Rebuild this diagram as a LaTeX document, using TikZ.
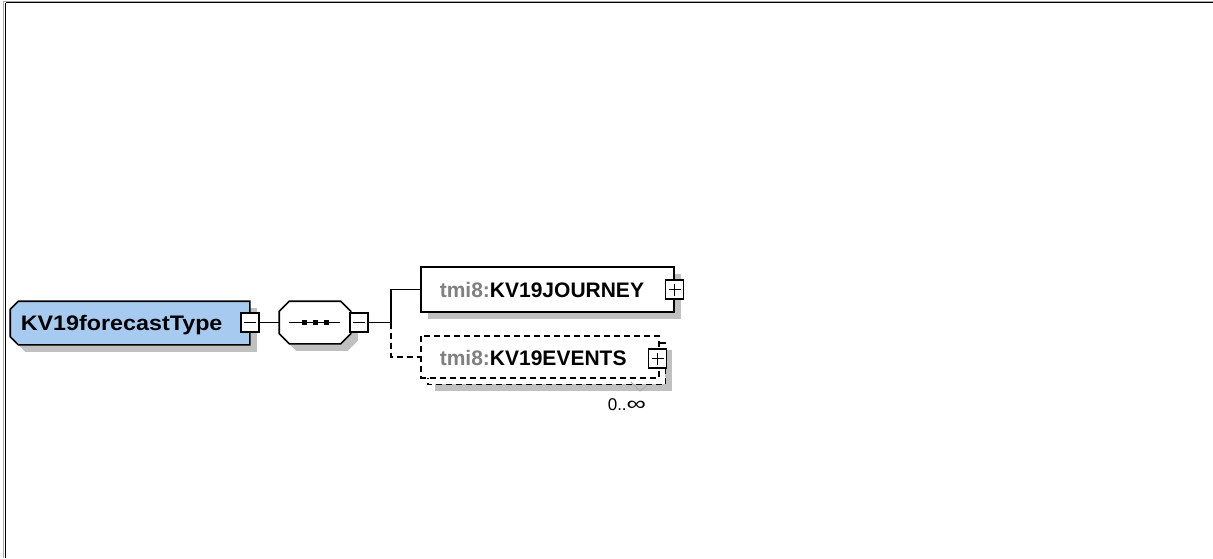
\documentclass[tikz,border=0pt]{standalone}
\usepackage{fontspec}
\newfontfamily\arial{Liberation Sans}
\usetikzlibrary{calc}
\definecolor{xblue}{RGB}{166,202,240}
\definecolor{xshadow}{RGB}{192,192,192}
\definecolor{xgrey}{RGB}{128,128,128}
\definecolor{xframe}{RGB}{170,170,170}
\begin{document}
\begin{tikzpicture}[x=1pt,y=-1pt,line width=1.6pt,
  xbox/.style={draw=none,inner sep=0pt},
  pm/.style={draw,fill=white,inner sep=0pt,minimum width=18pt,minimum height=19pt,line width=1.4pt},
  lbl/.style={anchor=base west,inner sep=0pt,font=\arial\bfseries\fontsize{21}{25}\selectfont},
  mult/.style={anchor=base west,inner sep=0pt,font=\arial\fontsize{17}{20}\selectfont},
  dashline/.style={dash pattern=on 6pt off 4pt},
  sign/.style={line width=1.2pt}]
\path[use as bounding box] (0,0) rectangle (1213,558);
% frame
\draw[xframe,line width=1pt] (3.8,1) -- (1213,1);
\draw[xframe,line width=1pt] (3.8,1) -- (3.8,558);
\draw[line width=1.3pt] (5.5,2.7) -- (1213,2.7);
\draw[line width=1.3pt] (5.5,2.7) -- (5.5,558);

% ---------- root element ----------
\node[xbox,minimum width=238pt,minimum height=42pt] (root) at (130,323) {};
\fill[xshadow] ($(root.north west)+(15,7)$) -- ($(root.north east)+(7,7)$) -- ($(root.south east)+(7,7)$) -- ($(root.south west)+(15,7)$) -- ($(root.south west)+(7,-1)$) -- ($(root.north west)+(7,15)$) -- cycle;
\draw[fill=xblue] ($(root.north west)+(8,0)$) -- (root.north east) -- (root.south east) -- ($(root.south west)+(8,0)$) -- ($(root.south west)+(0,-8)$) -- ($(root.north west)+(0,8)$) -- cycle;
\node[lbl] (rootlabel) at (20,330) {\scalebox{1.11}[1]{KV19forecastType}};
\node[pm] (rootmin) at (250,322.5) {};
\draw[sign] ($(rootmin.center)+(-6,0)$) -- ($(rootmin.center)+(6,0)$);

% ---------- sequence compositor ----------
\node[xbox,minimum width=70pt,minimum height=41pt] (seq) at (315,322.5) {};
\fill[xshadow] ($(seq.north west)+(17,7)$) -- ($(seq.north east)+(-3,7)$) -- ($(seq.north east)+(7,17)$) -- ($(seq.south east)+(7,-3)$) -- ($(seq.south east)+(-3,7)$) -- ($(seq.south west)+(17,7)$) -- ($(seq.south west)+(7,-3)$) -- ($(seq.north west)+(7,17)$) -- cycle;
\draw[fill=white] ($(seq.north west)+(10,0)$) -- ($(seq.north east)+(-10,0)$) -- ($(seq.north east)+(0,10)$) -- ($(seq.south east)+(0,-10)$) -- ($(seq.south east)+(-10,0)$) -- ($(seq.south west)+(10,0)$) -- ($(seq.south west)+(0,-10)$) -- ($(seq.north west)+(0,10)$) -- cycle;
\draw[line width=1.4pt] ($(seq.center)+(-26,0)$) -- ($(seq.center)+(25,0)$);
\fill ($(seq.center)+(-13.5,-2.5)$) rectangle ($(seq.center)+(-8.5,2.5)$);
\fill ($(seq.center)+(-2.5,-2.5)$) rectangle ($(seq.center)+(2.5,2.5)$);
\fill ($(seq.center)+(8.5,-2.5)$) rectangle ($(seq.center)+(13.5,2.5)$);
\node[pm] (seqmin) at (359,322.5) {};
\draw[sign] ($(seqmin.center)+(-6,0)$) -- ($(seqmin.center)+(6,0)$);

% ---------- KV19JOURNEY ----------
\node[xbox,minimum width=251pt,minimum height=43pt] (journey) at (547.5,289.5) {};
\fill[xshadow] ($(journey.north west)+(7,7)$) rectangle ($(journey.south east)+(7,7)$);
\draw[fill=white] (journey.north west) rectangle (journey.south east);
\node[lbl] (jlabel) at (439,297) {\textcolor{xgrey}{tmi8:}KV19JOURNEY};
\node[pm] (jplus) at (674.5,289.5) {};
\draw[sign] ($(jplus.center)+(-6,0)$) -- ($(jplus.center)+(6,0)$);
\draw[sign] ($(jplus.center)+(0,-6)$) -- ($(jplus.center)+(0,6)$);

% ---------- KV19EVENTS ----------
\node[xbox,minimum width=236pt,minimum height=40pt] (events) at (540,357) {};
\fill[xshadow] ($(events.north west)+(13.5,13.5)$) rectangle ($(events.south east)+(13.5,13.5)$);
\draw[dashline,fill=white] ($(events.north west)+(6.5,6.5)$) rectangle ($(events.south east)+(6.5,6.5)$);
\draw[dashline,fill=white] (events.north west) rectangle (events.south east);
\node[lbl] (elabel) at (439,365) {\textcolor{xgrey}{tmi8:}KV19EVENTS};
\node[pm] (eplus) at (657.5,358.5) {};
\draw[sign] ($(eplus.center)+(-6,0)$) -- ($(eplus.center)+(6,0)$);
\draw[sign] ($(eplus.center)+(0,-6)$) -- ($(eplus.center)+(0,6)$);
\draw[xframe,line width=0.9pt] (631,382) -- (640,391) -- (646,386);
\node[mult] (emult) at (607,410) {0..\scalebox{1.6}[1.15]{∞}};

% ---------- connectors ----------
\coordinate (junc) at (391,322.5);
\draw (rootmin.east) -- (seq.west);
\draw (seqmin.east) -- (junc);
\draw (junc) |- (journey.west);
\draw[dashline] (junc) |- (events.west);
\end{tikzpicture}
\end{document}
